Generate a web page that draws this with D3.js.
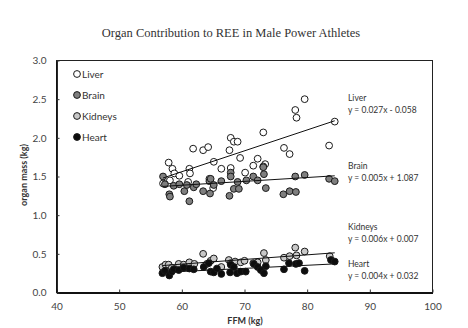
<!DOCTYPE html>
<html>
<head>
<meta charset="utf-8">
<script src="https://cdn.jsdelivr.net/npm/d3@7"></script>
<style>
  body { margin: 0; background: #fff; }
  svg text { font-family: Lato, "Open Sans", sans-serif; }
</style>
</head>
<body>
<div id="chart"></div>
<script>
// [FFM, mass]
const liver = [[79.6,2.50],[78.1,2.36],[78.3,2.26],[84.4,2.21],[73.0,2.07],[67.8,2.00],[68.3,1.95],[68.9,1.95],
  [61.8,1.86],[63.4,1.84],[64.2,1.88],[67.6,1.84],[83.5,1.90],[76.3,1.87],[77.2,1.79],[69.3,1.74],[65.1,1.69],
  [72.1,1.73],[57.9,1.68],[58.5,1.60],[58.8,1.54],[61.2,1.60],[61.3,1.54],[66.3,1.60],[67.8,1.61],[70.1,1.55],
  [71.4,1.64],[73.3,1.66],[73.0,1.63],[59.6,1.51],[58.1,1.45],[57.0,1.41],[61.0,1.43],[64.4,1.47],[65.0,1.35]];
const brain = [[57.0,1.50],[57.3,1.40],[58.0,1.27],[58.1,1.24],[58.7,1.38],[59.6,1.40],[60.4,1.31],[60.8,1.39],
  [61.2,1.18],[61.9,1.36],[62.3,1.40],[63.4,1.31],[64.4,1.44],[64.5,1.28],[64.6,1.47],[65.1,1.39],[66.3,1.44],
  [67.6,1.25],[67.8,1.55],[67.8,1.50],[68.3,1.34],[68.9,1.43],[69.1,1.34],[70.3,1.45],[71.4,1.50],[72.1,1.45],
  [73.0,1.62],[73.1,1.53],[73.4,1.35],[76.2,1.27],[77.2,1.31],[78.2,1.30],[78.1,1.50],[79.6,1.52],[83.5,1.47],[84.4,1.44]];
const kidneys = [[56.9,0.33],[57.4,0.36],[57.9,0.36],[58.4,0.32],[59.5,0.37],[60.3,0.36],[61.2,0.39],[62.0,0.37],
  [63.4,0.50],[64.0,0.37],[64.6,0.41],[65.1,0.44],[66.3,0.33],[67.5,0.42],[67.8,0.38],[68.5,0.40],[69.4,0.39],
  [70.0,0.41],[71.4,0.38],[72.1,0.39],[73.1,0.51],[73.4,0.42],[76.3,0.45],[77.2,0.47],[78.1,0.58],[78.3,0.48],
  [79.6,0.53],[83.6,0.47]];
const heart = [[56.9,0.25],[57.3,0.28],[58.0,0.22],[58.4,0.27],[58.7,0.30],[59.5,0.29],[60.3,0.32],[61.2,0.31],
  [61.9,0.30],[63.5,0.33],[64.3,0.38],[64.6,0.27],[65.1,0.26],[65.6,0.31],[66.3,0.24],[67.7,0.26],[67.8,0.36],
  [68.3,0.33],[68.8,0.25],[69.4,0.27],[70.2,0.27],[71.5,0.37],[72.1,0.33],[72.6,0.29],[73.1,0.25],[73.4,0.34],
  [76.3,0.30],[77.1,0.38],[78.2,0.37],[78.7,0.38],[79.6,0.28],[83.8,0.42],[84.4,0.40]];

// regression lines: [name, slope, intercept, label]
const fits = [
  ["Liver", 0.027, -0.058, "y = 0.027x - 0.058"],
  ["Brain", 0.005, 1.087, "y = 0.005x + 1.087"],
  ["Kidneys", 0.006, 0.007, "y = 0.006x + 0.007"],
  ["Heart", 0.004, 0.032, "y = 0.004x + 0.032"]
];
const fitRange = [57, 84.4];
const xTicks = [40, 50, 60, 70, 80, 90, 100];
const yTicks = [0, 0.5, 1.0, 1.5, 2.0, 2.5, 3.0];

const W = 468, H = 328;
const margin = { top: 60.5, right: 35.5, bottom: 35.5, left: 56.5 };
const width = W - margin.left - margin.right;
const height = H - margin.top - margin.bottom;

const svg = d3.select("#chart").append("svg")
  .attr("width", W)
  .attr("height", H);

svg.append("text")
  .attr("x", 231).attr("y", 37)
  .attr("text-anchor", "middle")
  .style("font-family", "'Liberation Serif', 'DejaVu Serif', serif")
  .style("font-size", "12.5px")
  .attr("fill", "#333")
  .text("Organ Contribution to REE in Male Power Athletes");

const g = svg.append("g")
  .attr("transform", "translate(" + margin.left + "," + margin.top + ")");

const x = d3.scaleLinear().domain([40, 100]).range([0, width]);
const y = d3.scaleLinear().domain([0, 3]).range([height, 0]);

// frame
g.append("rect")
  .attr("width", width).attr("height", height)
  .attr("fill", "none").attr("stroke", "#222").attr("stroke-width", 1);

g.append("g")
  .attr("transform", "translate(0," + height + ")")
  .call(d3.axisBottom(x).tickValues(xTicks).tickSizeInner(-3).tickSizeOuter(0).tickPadding(10))
  .call(ax => {
    ax.select(".domain").attr("stroke", "#111").attr("stroke-width", 1.8);
    ax.selectAll(".tick line").attr("stroke", "#333");
    ax.selectAll(".tick text").attr("fill", "#444").style("font-size", "10px");
  });

g.append("g")
  .call(d3.axisLeft(y).tickValues(yTicks).tickFormat(d3.format(".1f")).tickSizeInner(-3).tickSizeOuter(0).tickPadding(10))
  .call(ax => {
    ax.select(".domain").attr("stroke", "#111").attr("stroke-width", 1.8);
    ax.selectAll(".tick line").attr("stroke", "#333");
    ax.selectAll(".tick text").attr("fill", "#444").style("font-size", "10px");
  });

svg.append("text")
  .attr("transform", "translate(27,175) rotate(-90)")
  .attr("text-anchor", "middle")
  .style("font-size", "9px").style("font-weight", "bold")
  .attr("fill", "#333")
  .text("organ mass (kg)");

svg.append("text")
  .attr("x", 245).attr("y", 324)
  .attr("text-anchor", "middle")
  .style("font-size", "9px").style("font-weight", "bold")
  .attr("fill", "#333")
  .text("FFM (kg)");

const series = [
  { name: "Liver", data: liver, fill: "#ffffff" },
  { name: "Brain", data: brain, fill: "#7f7f7f" },
  { name: "Kidneys", data: kidneys, fill: "#c8c8c8" },
  { name: "Heart", data: heart, fill: "#0d0d0d" }
];

series.forEach(s => {
  g.append("g").selectAll("circle")
    .data(s.data)
    .enter().append("circle")
      .attr("cx", d => x(d[0]))
      .attr("cy", d => y(d[1]))
      .attr("r", 3.4)
      .attr("fill", s.fill)
      .attr("stroke", "#1a1a1a")
      .attr("stroke-width", 1);
});

const line = d3.line().x(d => x(d[0])).y(d => y(d[1]));
fits.forEach(f => {
  g.append("path")
    .attr("fill", "none").attr("stroke", "#111").attr("stroke-width", 1)
    .attr("d", line(fitRange.map(v => [v, f[1] * v + f[2]])));
});

// equation labels
const labelY = [[98, 110], [166, 178], [227, 239], [264, 276]];
fits.forEach((f, i) => {
  svg.append("text").attr("x", 348).attr("y", labelY[i][0] + 3)
    .style("font-size", "8.5px").attr("fill", "#333").text(f[0]);
  svg.append("text").attr("x", 348).attr("y", labelY[i][1] + 3)
    .style("font-size", "8.5px").attr("fill", "#333").text(f[3]);
});

// legend
const legend = svg.append("g").attr("transform", "translate(77,74)");
series.forEach((s, i) => {
  const row = legend.append("g").attr("transform", "translate(0," + i * 21 + ")");
  row.append("circle").attr("r", 3.4)
    .attr("fill", s.fill).attr("stroke", "#1a1a1a").attr("stroke-width", 1);
  row.append("text").attr("x", 5).attr("y", 3.5)
    .style("font-size", "10px").attr("fill", "#333").text(s.name);
});
</script>
</body>
</html>
